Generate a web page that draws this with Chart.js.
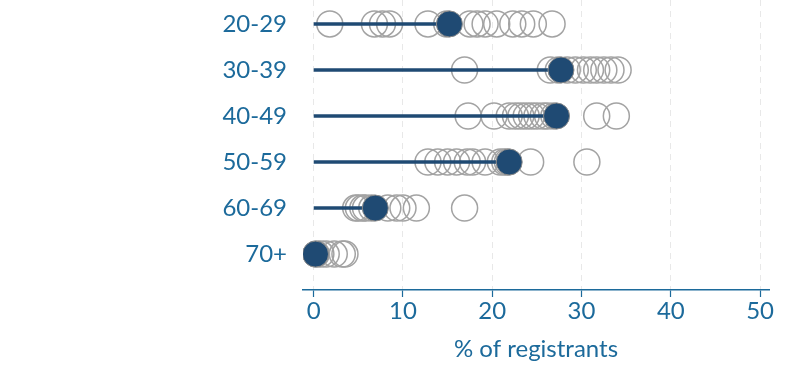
<!DOCTYPE html>
<html>
<head>
<meta charset="utf-8">
<script src="https://cdn.jsdelivr.net/npm/chart.js@4/dist/chart.umd.min.js"></script>
<style>
  html, body { margin: 0; padding: 0; background: #ffffff; }
  #wrap { width: 800px; height: 378px; }
</style>
</head>
<body>
<div id="wrap"><canvas id="c" width="800" height="378"></canvas></div>
<script>
// ---- data ----
const categories = ["20-29", "30-39", "40-49", "50-59", "60-69", "70+"];
const means = [15.2, 27.7, 27.2, 21.9, 6.9, 0.2];
const values2029 = [1.8, 6.8, 7.7, 8.5, 12.8, 14.9, 17.5, 18.3, 19.2, 20.5, 22.3, 23.3, 24.6, 26.7];
const values3039 = [16.9, 26.5, 27.4, 28.4, 29.3, 30.2, 31.0, 31.7, 32.5, 33.3, 34.1];
const values4049 = [17.3, 20.2, 21.9, 22.6, 23.2, 23.8, 24.4, 25.0, 25.7, 26.2, 26.9, 31.7, 33.9];
const values5059 = [12.8, 13.9, 15.0, 16.0, 17.2, 17.8, 19.2, 20.9, 21.4, 21.7, 24.3, 30.6];
const values6069 = [4.7, 5.0, 5.5, 5.8, 6.5, 8.3, 9.3, 10.0, 11.5, 16.9];
const values70 = [0.3, 0.8, 1.4, 2.3, 3.2, 3.5];
const rowValues = [values2029, values3039, values4049, values5059, values6069, values70];
const xTicks = [0, 10, 20, 30, 40, 50];
const xTitle = "% of registrants";

// ---- styles ----
const TEXT = "#1c6a9b";
const NAVY = "#1f4a73";
const GREY = "#a3a3a3";
const FONT = "Lato, 'Open Sans', sans-serif";
const FS = 24;

const hollowPts = [];
rowValues.forEach((arr, i) => arr.forEach(v => hollowPts.push({x: v, y: i})));
const meanPts = means.map((m, i) => ({x: m, y: i}));

const lineSets = means.map((m, i) => ({
  type: 'line',
  data: [{x: 0, y: i}, {x: m, y: i}],
  borderColor: NAVY,
  borderWidth: 3.5,
  pointRadius: 0,
  showLine: true,
  fill: false,
  order: 1
}));

new Chart(document.getElementById('c'), {
  type: 'scatter',
  data: {
    datasets: [
      {
        data: meanPts,
        pointRadius: 13,
        pointHoverRadius: 13,
        backgroundColor: NAVY,
        borderColor: "#8a8a8a",
        borderWidth: 1,
        order: 0
      },
      ...lineSets,
      {
        data: hollowPts,
        pointRadius: 13,
        pointHoverRadius: 13,
        backgroundColor: 'rgba(255,255,255,0)',
        borderColor: GREY,
        borderWidth: 1.5,
        order: 2
      }
    ]
  },
  options: {
    responsive: false,
    animation: false,
    layout: { autoPadding: false, padding: { left: 0, right: 31, top: 0, bottom: 0 } },
    plugins: { legend: { display: false }, tooltip: { enabled: false } },
    scales: {
      x: {
        type: 'linear',
        min: -1.2,
        max: 51,
        afterBuildTicks: s => { s.ticks = xTicks.map(v => ({value: v})); },
        afterFit: s => { s.height = 88; },
        grid: {
          color: "#e8e8e8",
          lineWidth: 1,
          drawTicks: true,
          tickLength: 7,
          tickColor: TEXT,
          tickWidth: 1.2
        },
        border: { display: true, color: TEXT, width: 1.5, dash: [6, 5] },
        ticks: { color: TEXT, font: { family: FONT, size: FS }, padding: 0 },
        title: {
          display: true,
          text: xTitle,
          color: TEXT,
          font: { family: FONT, size: FS },
          padding: { top: 4, bottom: 14 }
        }
      },
      y: {
        type: 'linear',
        reverse: true,
        min: -0.52,
        max: 5.78,
        afterBuildTicks: s => { s.ticks = categories.map((c, i) => ({value: i})); },
        afterFit: s => { s.width = 303; s.paddingTop = 0; s.paddingBottom = 0; },
        grid: { display: false, drawTicks: false },
        border: { display: false },
        ticks: {
          color: TEXT,
          font: { family: FONT, size: FS },
          padding: 16,
          callback: v => categories[v]
        }
      }
    }
  }
});
</script>
</body>
</html>
